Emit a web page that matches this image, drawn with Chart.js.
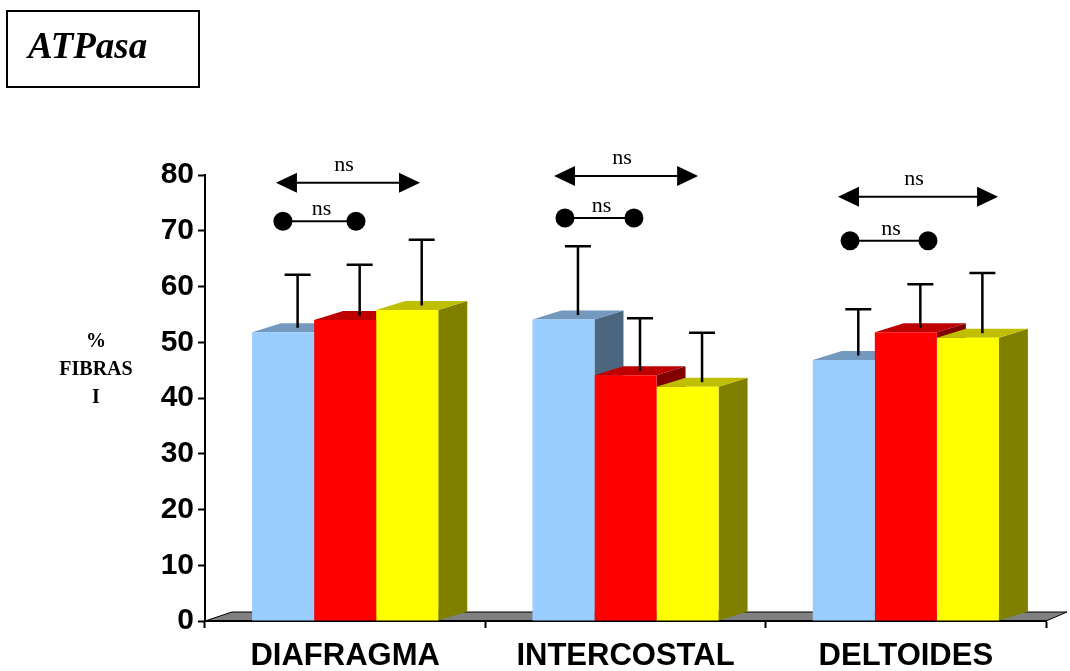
<!DOCTYPE html>
<html>
<head>
<meta charset="utf-8">
<script src="https://cdn.jsdelivr.net/npm/chart.js@4"></script>
<style>
  body { margin: 0; background: #fff; }
  #wrap { position: relative; width: 1070px; height: 671px; }
  #titleBox {
    position: absolute; left: 6px; top: 10px; width: 190px; height: 74px;
    border: 2px solid #000; box-sizing: content-box;
    font: italic bold 37px "Liberation Serif", "Times New Roman", serif;
    line-height: 74px; padding-left: 0;
  }
  #titleBox span { position: absolute; left: 20px; top: -3px; }
</style>
</head>
<body>
<div id="wrap">
  <canvas id="myChart" width="1070" height="671"></canvas>
  <div id="titleBox"><span>ATPasa</span></div>
</div>
<script>
// data
var muscles = ['DIAFRAGMA', 'INTERCOSTAL', 'DELTOIDES'];
var blueVals = [51.8, 54.1, 46.8];
var redVals = [54.0, 44.1, 51.8];
var yellowVals = [55.8, 42.0, 50.8];
var blueErr = [9.5, 12.3, 8.3];
var redErr = [9.1, 9.4, 7.8];
var yellowErr = [11.8, 8.9, 10.8];
var yTicks = [0, 10, 20, 30, 40, 50, 60, 70, 80];
var yTitle = ['%', 'FIBRAS', 'I'];

// "ns" comparisons, x as offsets from category index, y in axis units
var arrowY = [78.6, 79.8, 76.1];
var arrowFrom = [-0.247, -0.255, -0.242];
var arrowTo = [0.267, 0.259, 0.329];
var dotY = [71.7, 72.3, 68.2];
var dotFrom = [-0.222, -0.216, -0.199];
var dotTo = [0.0385, 0.030, 0.079];
var nsText = 'ns';

// 3d look
var depthX = 29;
var depthY = -9;
var topColors = ['#7399bf', '#bf0000', '#bfbf00'];
var sideColors = ['#4d6680', '#800000', '#808000'];
var errors = [blueErr, redErr, yellowErr];

function poly(ctx, pts, fill, stroke) {
    ctx.beginPath();
    ctx.moveTo(pts[0][0], pts[0][1]);
    for (var i = 1; i < pts.length; i++) ctx.lineTo(pts[i][0], pts[i][1]);
    ctx.closePath();
    ctx.fillStyle = fill;
    ctx.fill();
    if (stroke) {
        ctx.strokeStyle = stroke;
        ctx.lineWidth = 1;
        ctx.stroke();
    }
}

//floor + depth faces + error bars + annotations
var boxPlugin = {
    id: 'box3d',
    beforeDraw: function(chart) {
        var ctx = chart.ctx;
        var a = chart.chartArea;
        ctx.save();
        poly(ctx, [[a.left, a.bottom], [a.right, a.bottom], [a.right + depthX - 8, a.bottom + depthY],
            [a.left + depthX - 2, a.bottom + depthY]], '#808080', '#000');
        ctx.restore();

        // y title
        ctx.save();
        ctx.fillStyle = '#000';
        ctx.font = 'bold 20px "Liberation Serif", serif';
        ctx.textAlign = 'center';
        ctx.textBaseline = 'middle';
        yTitle.forEach(function(t, i) {
            ctx.fillText(t, 96, 342 + i * 28);
        });
        ctx.restore();
    },
    beforeDatasetsDraw: function(chart) {
        var ctx = chart.ctx;
        ctx.save();
        var n = chart.data.labels.length;
        for (var j = 0; j < n; j++) {
            for (var i = 0; i < chart.data.datasets.length; i++) {
                var el = chart.getDatasetMeta(i).data[j];
                var l = el.x - el.width / 2;
                var r = el.x + el.width / 2;
                var t = el.y;
                var b = el.base;
                // side
                poly(ctx, [[r, t], [r + depthX, t + depthY], [r + depthX, b + depthY], [r, b]], sideColors[i]);
                // top
                poly(ctx, [[l, t], [r, t], [r + depthX, t + depthY], [l + depthX, t + depthY]], topColors[i]);
            }
        }
        ctx.restore();
    },
    afterDatasetsDraw: function(chart) {
        var ctx = chart.ctx;
        var xs = chart.scales.x;
        var ys = chart.scales.y;
        ctx.save();
        ctx.strokeStyle = '#000';
        ctx.fillStyle = '#000';

        // error bars
        ctx.lineWidth = 2.5;
        chart.data.datasets.forEach(function(ds, i) {
            chart.getDatasetMeta(i).data.forEach(function(el, j) {
                var x = el.x + depthX / 2;
                var y0 = el.y + depthY / 2;
                var y1 = ys.getPixelForValue(ds.data[j] + errors[i][j]) + depthY / 2;
                ctx.beginPath();
                ctx.moveTo(x, y0);
                ctx.lineTo(x, y1);
                ctx.moveTo(x - 13, y1);
                ctx.lineTo(x + 13, y1);
                ctx.stroke();
            });
        });

        ctx.font = '22px "Liberation Serif", serif';
        ctx.textAlign = 'center';
        ctx.textBaseline = 'alphabetic';
        ctx.lineWidth = 2;
        for (var j = 0; j < muscles.length; j++) {
            // double arrow
            var x1 = xs.getPixelForValue(j + arrowFrom[j]);
            var x2 = xs.getPixelForValue(j + arrowTo[j]);
            var y = ys.getPixelForValue(arrowY[j]);
            ctx.beginPath();
            ctx.moveTo(x1 + 15, y);
            ctx.lineTo(x2 - 15, y);
            ctx.stroke();
            poly(ctx, [[x1, y], [x1 + 21, y - 10], [x1 + 21, y + 10]], '#000');
            poly(ctx, [[x2, y], [x2 - 21, y - 10], [x2 - 21, y + 10]], '#000');
            ctx.fillStyle = '#000';
            ctx.fillText(nsText, (x1 + x2) / 2 - 4, y - 12);

            // dots
            var d1 = xs.getPixelForValue(j + dotFrom[j]);
            var d2 = xs.getPixelForValue(j + dotTo[j]);
            var dy = ys.getPixelForValue(dotY[j]);
            ctx.beginPath();
            ctx.moveTo(d1, dy);
            ctx.lineTo(d2, dy);
            ctx.stroke();
            ctx.beginPath();
            ctx.arc(d1, dy, 9.5, 0, Math.PI * 2);
            ctx.fill();
            ctx.beginPath();
            ctx.arc(d2, dy, 9.5, 0, Math.PI * 2);
            ctx.fill();
            ctx.fillText(nsText, (d1 + d2) / 2 + 2, dy - 6);
        }
        ctx.restore();
    }
};

var data = {
    labels: muscles,
    datasets: [{
            label: 'serie 1',
            data: blueVals,
            backgroundColor: '#99ccff',
            borderWidth: 0
        },
        {
            label: 'serie 2',
            data: redVals,
            backgroundColor: '#ff0000',
            borderWidth: 0
        },
        {
            label: 'serie 3',
            data: yellowVals,
            backgroundColor: '#ffff00',
            borderWidth: 0
        }
    ]
};

const config = {
    type: 'bar',
    data,
    options: {
        responsive: false,
        animation: false,
        devicePixelRatio: 1,
        layout: {
            padding: { top: 175, right: 24, left: 0, bottom: 0 }
        },
        datasets: {
            bar: {
                categoryPercentage: 0.664,
                barPercentage: 1
            }
        },
        plugins: {
            legend: { display: false },
            tooltip: { enabled: false }
        },
        scales: {
            x: {
                afterFit: function(scale) { scale.height = 50; },
                grid: {
                    drawOnChartArea: false,
                    tickLength: 7,
                    tickColor: '#000',
                    tickWidth: 2
                },
                border: { color: '#000', width: 2 },
                ticks: {
                    color: '#000',
                    padding: 10,
                    font: { family: '"Liberation Sans", Arial, sans-serif', size: 31, weight: 'bold' }
                }
            },
            y: {
                min: 0,
                max: 80,
                afterFit: function(scale) { scale.width = 205; },
                afterBuildTicks: function(scale) {
                    scale.ticks = yTicks.map(function(v) { return { value: v }; });
                },
                grid: {
                    drawOnChartArea: false,
                    tickLength: 7,
                    tickColor: '#000',
                    tickWidth: 2
                },
                border: { color: '#000', width: 2 },
                ticks: {
                    color: '#000',
                    padding: 4,
                    font: { family: '"Liberation Sans", Arial, sans-serif', size: 30, weight: 'bold' }
                }
            }
        }
    },
    plugins: [boxPlugin]
};

const myChart = new Chart(document.getElementById('myChart'), config);
</script>
</body>
</html>
